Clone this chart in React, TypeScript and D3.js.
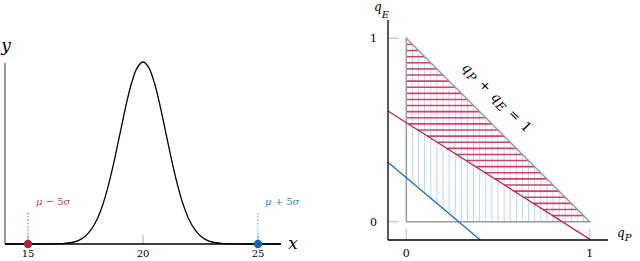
import * as d3 from 'd3';

// Left panel: bell curve (x, relative height)
const curvePoints: [number, number][] = [
  [14, 0], [15, 0], [16, 0.0003], [16.5, 0.0022], [17, 0.011], [17.25, 0.023],
  [17.5, 0.044], [17.75, 0.08], [18, 0.135], [18.25, 0.216], [18.5, 0.325],
  [18.75, 0.458], [19, 0.607], [19.25, 0.755], [19.5, 0.883], [19.75, 0.969],
  [20, 1], [20.25, 0.969], [20.5, 0.883], [20.75, 0.755], [21, 0.607],
  [21.25, 0.458], [21.5, 0.325], [21.75, 0.216], [22, 0.135], [22.25, 0.08],
  [22.5, 0.044], [22.75, 0.023], [23, 0.011], [23.5, 0.0022], [24, 0.0003],
  [25, 0], [26, 0],
];
const leftTicks = [15, 20, 25];
const lowMark = 15;
const highMark = 25;

// Right panel
const triangle: [number, number][] = [[0, 0], [1, 0], [0, 1]];
const rightTicks = [0, 1];
const redLine = { intercept: 0.54, slope: -0.635 };
const blueLine = { intercept: 0.24, slope: -0.842 };
const hatchStep = 1 / 30;

const RED = '#b5294a';
const RED_HATCH = '#c9456a';
const BLUE = '#1a6fbf';
const BLUE_HATCH = '#b8d6f6';
const FONT = "'DejaVu Serif', 'Liberation Serif', serif";

export default function App() {
  // left scales
  const lx = d3.scaleLinear().domain([14, 26]).range([5, 281]);
  const ly = d3.scaleLinear().domain([0, 1]).range([244, 62]);
  const line = d3.line<[number, number]>()
    .x(d => lx(d[0]))
    .y(d => ly(d[1]))
    .curve(d3.curveCatmullRom);

  // right scales
  const rx = d3.scaleLinear().domain([-0.1, 1.1]).range([388, 608]);
  const ry = d3.scaleLinear().domain([-0.1, 1.1]).range([240, 20]);

  const redAt = (x: number) => redLine.intercept + redLine.slope * x;
  const blueAt = (x: number) => blueLine.intercept + blueLine.slope * x;

  // vertical blue hatch: above blue line, under hypotenuse
  const blueHatch = d3.range(hatchStep, 1, hatchStep).map(x => {
    const y0 = Math.max(0, blueAt(x));
    return { x, y0, y1: 1 - x };
  }).filter(d => d.y1 > d.y0);

  // horizontal red hatch: right of red line, left of hypotenuse
  const redHatch = d3.range(hatchStep, 1, hatchStep).map(y => {
    const x0 = Math.max(0, (y - redLine.intercept) / redLine.slope);
    return { y, x0, x1: 1 - y };
  }).filter(d => d.x1 > d.x0);

  const triPath = triangle.map(p => `${rx(p[0])},${ry(p[1])}`).join(' ');

  const hx = 494;
  const hy = 101;

  return (
    <svg width={640} height={261} style={{ position: 'absolute', left: 0, top: 0, fontFamily: FONT }}>
      <rect width={640} height={261} fill="#fff" />

      {/* ---------- left panel ---------- */}
      <line x1={lx(14)} x2={lx(14)} y1={ly(0)} y2={63} stroke="#808080" strokeWidth={1.6} />
      {leftTicks.map(t => (
        <g key={t}>
          <line x1={lx(t)} x2={lx(t)} y1={ly(0)} y2={ly(0) - 9} stroke="#cccccc" strokeWidth={1.6} />
          <text x={lx(t)} y={257} fontSize={10} textAnchor="middle">{t}</text>
        </g>
      ))}
      <path d={line(curvePoints) || ''} fill="none" stroke="#000" strokeWidth={1.3} />
      <line x1={lx(14)} x2={lx(26)} y1={ly(0)} y2={ly(0)} stroke="#000" strokeWidth={1.4} />
      <text x={293} y={249} fontSize={17} fontStyle="italic" textAnchor="middle">x</text>
      <text x={6} y={51} fontSize={17} fontStyle="italic" textAnchor="middle">y</text>

      <line x1={lx(lowMark)} x2={lx(lowMark)} y1={ly(0)} y2={212} stroke="#d0697f" strokeWidth={1.3} strokeDasharray="1.3 2" />
      <line x1={lx(highMark)} x2={lx(highMark)} y1={ly(0)} y2={212} stroke="#6aaee6" strokeWidth={1.3} strokeDasharray="1.3 2" />
      <circle cx={lx(lowMark)} cy={ly(0)} r={4.2} fill="#a8283f" />
      <circle cx={lx(highMark)} cy={ly(0)} r={4.2} fill="#1565b0" />
      <text x={36} y={205} fontSize={10} fill="#c0435f">
        <tspan fontStyle="italic">μ</tspan> − 5<tspan fontStyle="italic">σ</tspan>
      </text>
      <text x={265} y={205} fontSize={10} fill="#2f86d0">
        <tspan fontStyle="italic">μ</tspan> + 5<tspan fontStyle="italic">σ</tspan>
      </text>

      {/* ---------- right panel ---------- */}
      {blueHatch.map((d, i) => (
        <line key={`b${i}`} x1={rx(d.x)} x2={rx(d.x)} y1={ry(d.y0)} y2={ry(d.y1)} stroke={BLUE_HATCH} strokeWidth={1} />
      ))}
      {redHatch.map((d, i) => (
        <line key={`r${i}`} x1={rx(d.x0)} x2={rx(d.x1)} y1={ry(d.y)} y2={ry(d.y)} stroke={RED_HATCH} strokeWidth={1.6} />
      ))}
      <polygon points={triPath} fill="none" stroke="#9a9a9a" strokeWidth={1.5} />

      {rightTicks.map(t => (
        <g key={`t${t}`}>
          <line x1={rx(t)} x2={rx(t)} y1={ry(-0.1)} y2={ry(-0.1) - 11} stroke="#cccccc" strokeWidth={1.4} />
          <line x1={rx(-0.1)} x2={rx(-0.1) + 11} y1={ry(t)} y2={ry(t)} stroke="#cccccc" strokeWidth={1.4} />
          <text x={rx(t)} y={257} fontSize={11} textAnchor="middle">{t}</text>
          <text x={377} y={ry(t) + 4} fontSize={11} textAnchor="end">{t}</text>
        </g>
      ))}

      <line x1={rx(-0.1)} x2={rx(1)} y1={ry(redAt(-0.1))} y2={ry(redAt(1))} stroke={RED} strokeWidth={1.3} />
      <line
        x1={rx(-0.1)} x2={rx((-0.1 - blueLine.intercept) / blueLine.slope)}
        y1={ry(blueAt(-0.1))} y2={ry(-0.1)} stroke={BLUE} strokeWidth={1.3}
      />

      <line x1={rx(-0.1)} x2={rx(-0.1)} y1={ry(-0.1)} y2={ry(1.1)} stroke="#000" strokeWidth={1.3} />
      <line x1={rx(-0.1)} x2={rx(1.1)} y1={ry(-0.1)} y2={ry(-0.1)} stroke="#000" strokeWidth={1.3} />

      <text x={374} y={11} fontSize={12} fontStyle="italic">
        q<tspan fontSize={10} dy={7}>E</tspan>
      </text>
      <text x={617} y={237} fontSize={12} fontStyle="italic">
        q<tspan fontSize={10} dy={4}>P</tspan>
      </text>

      <text transform={`translate(${hx},${hy}) rotate(45)`} fontSize={13.5} textAnchor="middle" letterSpacing={1}>
        <tspan fontStyle="italic">q</tspan><tspan fontStyle="italic" fontSize={11.5} dy={3}>P</tspan>
        <tspan dy={-3}>{'\u00a0+\u00a0'}</tspan>
        <tspan fontStyle="italic">q</tspan><tspan fontStyle="italic" fontSize={11.5} dy={3}>E</tspan>
        <tspan dy={-3}>{'\u00a0=\u00a01'}</tspan>
      </text>
    </svg>
  );
}
